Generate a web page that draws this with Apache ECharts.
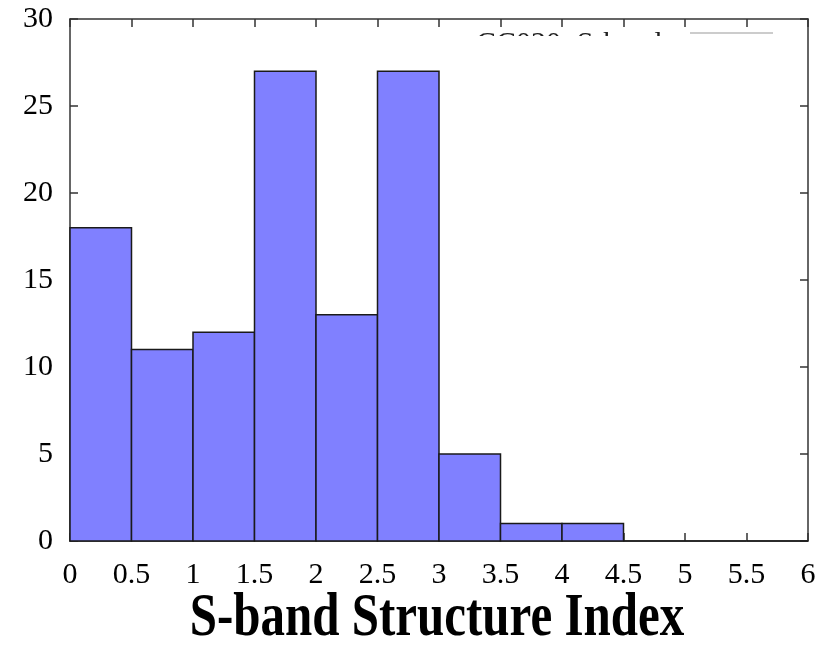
<!DOCTYPE html>
<html><head><meta charset="utf-8">
<script src="https://cdn.jsdelivr.net/npm/echarts@6/dist/echarts.min.js"></script>
<style>html,body{margin:0;padding:0;background:#fff}#c{width:830px;height:652px}</style>
</head><body><div id="c"></div>
<script>
const binStarts = [0, 0.5, 1, 1.5, 2, 2.5, 3, 3.5, 4, 4.5, 5, 5.5];
const binWidth = 0.5;
const counts = [18, 11, 12, 27, 13, 27, 5, 1, 1, 0, 0, 0];
const xTicks = [0, 0.5, 1, 1.5, 2, 2.5, 3, 3.5, 4, 4.5, 5, 5.5, 6];
const yTicks = [0, 5, 10, 15, 20, 25, 30];
const legendLabel = 'CC020: S-band';
const xTitle = 'S-band Structure Index';

const data = binStarts.map((s, i) => [s, s + binWidth, counts[i]]);
const font = '"Liberation Serif", "DejaVu Serif", serif';
const chart = echarts.init(document.getElementById('c'));
const axisLine = {show: true, onZero: false, lineStyle: {color: '#333', width: 1.5}};
const tick = {inside: true, length: 8, lineStyle: {color: '#333', width: 1.5}};
chart.setOption({
  animation: false,
  grid: {left: 70, right: 22, top: 19, bottom: 111},
  xAxis: [
    {type: 'value', min: 0, max: 6, interval: 0.5, position: 'bottom',
     axisLine, axisTick: tick, splitLine: {show: false},
     axisLabel: {margin: 19, fontFamily: font, fontSize: 30, color: '#000',
       formatter: v => xTicks.includes(v) ? String(v) : ''}},
    {type: 'value', min: 0, max: 6, interval: 0.5, position: 'top',
     axisLine, axisTick: tick, splitLine: {show: false}, axisLabel: {show: false}}
  ],
  yAxis: [
    {type: 'value', min: 0, max: 30, interval: 5, position: 'left',
     axisLine, axisTick: tick, splitLine: {show: false},
     axisLabel: {margin: 17, fontFamily: font, fontSize: 30, color: '#000',
       formatter: v => yTicks.includes(v) ? String(v) : ''}},
    {type: 'value', min: 0, max: 30, interval: 5, position: 'right',
     axisLine, axisTick: tick, splitLine: {show: false}, axisLabel: {show: false}}
  ],
  series: [{
    type: 'custom',
    data: data,
    encode: {x: [0, 1], y: 2},
    renderItem: function (params, api) {
      const p0 = api.coord([api.value(0), api.value(2)]);
      const p1 = api.coord([api.value(1), 0]);
      return {type: 'rect', shape: {x: p0[0], y: p0[1], width: p1[0] - p0[0], height: p1[1] - p0[1]},
        style: {fill: '#8080ff', stroke: '#1a1a1a', lineWidth: 1.5}};
    }
  }],
  graphic: [
    {type: 'text', x: 437, y: 650, scaleX: 0.79, z: 10,
     style: {text: xTitle, font: 'bold 62px ' + font, fill: '#000', align: 'center', verticalAlign: 'bottom'}},
    {type: 'text', x: 476, y: 29, z: 10,
     style: {text: legendLabel, font: '30px ' + font, fill: '#222'}},
    {type: 'line', z: 10, shape: {x1: 690, y1: 33, x2: 773, y2: 33},
     style: {stroke: '#bbb', lineWidth: 1.5}},
    {type: 'rect', z: 11, shape: {x: 470, y: 36, width: 312, height: 22}, style: {fill: '#fff'}}
  ]
});
</script></body></html>
